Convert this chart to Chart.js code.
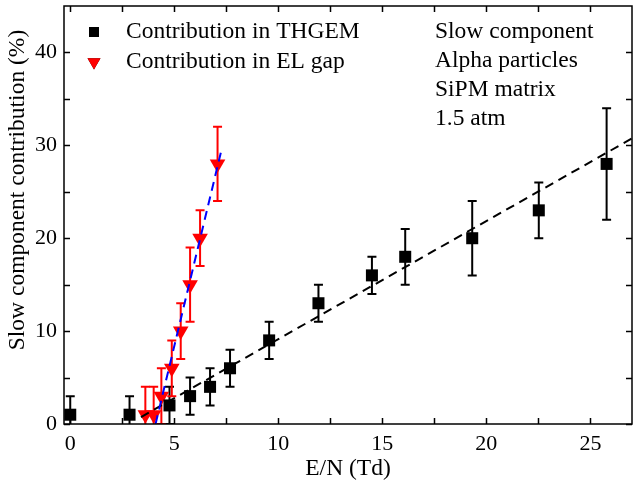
<!DOCTYPE html>
<html>
<head>
<meta charset="utf-8">
<script src="https://cdn.jsdelivr.net/npm/chart.js@4.4.0/dist/chart.umd.min.js"></script>
<style>
  html, body { margin: 0; padding: 0; background: #fff; }
  #wrap { width: 633px; height: 485px; }
</style>
</head>
<body>
<div id="wrap"><canvas id="chart"></canvas></div>
<script>
// Contribution in THGEM (black squares)
const thgemX = [0, 2.85, 4.77, 5.76, 6.72, 7.68, 9.56, 11.93, 14.5, 16.1, 19.32, 22.52, 25.78];
const thgemY = [1, 1, 2, 3, 4, 6, 9, 13, 16, 18, 20, 23, 28];
const thgemErr = [2, 2, 2, 2, 2, 2, 2, 2, 2, 3, 4, 3, 6];

// Contribution in EL gap (red triangles)
const elX = [3.61, 4.01, 4.38, 4.88, 5.31, 5.76, 6.24, 7.08];
const elY = [1, 1, 3, 6, 10, 15, 20, 28];
const elErr = [3, 3, 3, 3, 3, 4, 3, 4];

// linear fits (end points)
const thgemFitX = [3.4, 27];
const thgemFitY = [0.75, 30.75];
const elFitX = [4.1, 7.3];
const elFitY = [0, 29.8];

const xTicks = [0, 2.5, 5, 7.5, 10, 12.5, 15, 17.5, 20, 22.5, 25];
const xLabels = ['0', '', '5', '', '10', '', '15', '', '20', '', '25'];
const yTicks = [0, 5, 10, 15, 20, 25, 30, 35, 40];
const yLabels = ['0', '', '10', '', '20', '', '30', '', '40'];

const legendLabels = ['Contribution in THGEM', 'Contribution in EL gap'];
const noteLines = ['Slow component', 'Alpha particles', 'SiPM matrix', '1.5 atm'];
const xTitle = 'E/N (Td)';
const yTitle = 'Slow component contribution (%)';

const FONT = "'Liberation Serif', 'Times New Roman', serif";

const pts = (xs, ys) => xs.map((v, i) => ({ x: v, y: ys[i] }));

// error bars, drawn under the markers
const errorBars = {
    id: 'errorBars',
    beforeDatasetsDraw(chart) {
        const { ctx, chartArea: a, scales: { x, y } } = chart;
        ctx.save();
        ctx.beginPath();
        ctx.rect(a.left, a.top, a.right - a.left, a.bottom - a.top);
        ctx.clip();
        chart.data.datasets.forEach(ds => {
            if (!ds.errors) return;
            ctx.strokeStyle = ds.backgroundColor;
            ctx.lineWidth = 2;
            ds.data.forEach((p, i) => {
                const px = x.getPixelForValue(p.x);
                const top = y.getPixelForValue(p.y + ds.errors[i]);
                const bot = y.getPixelForValue(p.y - ds.errors[i]);
                ctx.beginPath();
                ctx.moveTo(px, top); ctx.lineTo(px, bot);
                ctx.moveTo(px - 4.5, top); ctx.lineTo(px + 4.5, top);
                ctx.moveTo(px - 4.5, bot); ctx.lineTo(px + 4.5, bot);
                ctx.stroke();
            });
        });
        ctx.restore();
    }
};

// frame with inward ticks on all sides, legend, notes, y title
const decorations = {
    id: 'decorations',
    afterDraw(chart) {
        const { ctx, chartArea: a, scales: { x, y } } = chart;
        ctx.save();
        ctx.strokeStyle = '#000';
        ctx.lineWidth = 1.5;
        ctx.strokeRect(a.left, a.top, a.right - a.left, a.bottom - a.top);
        ctx.beginPath();
        xTicks.forEach(v => {
            const px = Math.round(x.getPixelForValue(v)) + 0.5;
            ctx.moveTo(px, a.bottom); ctx.lineTo(px, a.bottom - 6);
            ctx.moveTo(px, a.top); ctx.lineTo(px, a.top + 6);
        });
        yTicks.forEach(v => {
            const py = Math.round(y.getPixelForValue(v)) + 0.5;
            ctx.moveTo(a.left, py); ctx.lineTo(a.left + 6, py);
            ctx.moveTo(a.right, py); ctx.lineTo(a.right - 6, py);
        });
        ctx.stroke();

        // legend
        ctx.font = '23.5px ' + FONT;
        ctx.fillStyle = '#000';
        ctx.textBaseline = 'middle';
        ctx.textAlign = 'left';
        const series = [chart.data.datasets[2], chart.data.datasets[3]];
        series.forEach((ds, i) => {
            const ly = 32 + i * 30;
            Chart.helpers.drawPoint(ctx, {
                pointStyle: ds.pointStyle,
                radius: ds.pointStyle === 'rect' ? 7 : 7.5,
                rotation: ds.rotation || 0,
                borderWidth: 0
            }, 94, ly);
            ctx.fillStyle = ds.backgroundColor;
            ctx.fill();
            ctx.fillStyle = '#000';
            ctx.fillText(legendLabels[i], 126, ly);
        });

        // notes
        noteLines.forEach((t, i) => ctx.fillText(t, 435, 32 + i * 29));

        // y title
        ctx.translate(18, 190);
        ctx.rotate(-Math.PI / 2);
        ctx.textAlign = 'center';
        ctx.fillText(yTitle, 0, 0);
        ctx.restore();
    }
};

const lineDs = (xs, ys, color) => ({
    type: 'line',
    data: pts(xs, ys),
    borderColor: color,
    borderWidth: 2,
    borderDash: [9, 6],
    pointRadius: 0,
    fill: false,
    showLine: true
});

new Chart(document.getElementById('chart'), {
    type: 'scatter',
    data: {
        datasets: [
            lineDs(elFitX, elFitY, '#0000ff'),
            lineDs(thgemFitX, thgemFitY, '#000000'),
            {
                label: legendLabels[0],
                data: pts(thgemX, thgemY),
                errors: thgemErr,
                pointStyle: 'rect',
                pointRadius: 8.5,
                backgroundColor: '#000000',
                borderWidth: 0
            },
            {
                label: legendLabels[1],
                data: pts(elX, elY),
                errors: elErr,
                pointStyle: 'triangle',
                rotation: 180,
                pointRotation: 180,
                pointRadius: 9,
                backgroundColor: '#ff0000',
                borderWidth: 0
            }
        ]
    },
    options: {
        responsive: true,
        maintainAspectRatio: false,
        animation: false,
        layout: { autoPadding: false, padding: { left: 0, top: 6, right: 1, bottom: 0 } },
        plugins: {
            legend: { display: false },
            tooltip: { enabled: false }
        },
        scales: {
            x: {
                type: 'linear',
                min: -0.3,
                max: 27,
                grid: { display: false, drawTicks: false },
                border: { display: false },
                afterBuildTicks: s => { s.ticks = xTicks.map(v => ({ value: v })); },
                afterFit: s => { s.height = 61; s.paddingLeft = 0; s.paddingRight = 0; },
                ticks: {
                    color: '#000',
                    font: { family: FONT, size: 22 },
                    padding: 7,
                    maxRotation: 0,
                    autoSkip: false,
                    callback: (v, i) => xLabels[i]
                },
                title: {
                    display: true,
                    text: xTitle,
                    color: '#000',
                    font: { family: FONT, size: 23.5 },
                    padding: { top: 0, bottom: 2 }
                }
            },
            y: {
                type: 'linear',
                min: 0,
                max: 45,
                grid: { display: false, drawTicks: false },
                border: { display: false },
                afterBuildTicks: s => { s.ticks = yTicks.map(v => ({ value: v })); },
                afterFit: s => { s.width = 64; s.paddingTop = 0; s.paddingBottom = 0; },
                ticks: {
                    color: '#000',
                    font: { family: FONT, size: 22 },
                    padding: 7,
                    autoSkip: false,
                    callback: (v, i) => yLabels[i]
                }
            }
        }
    },
    plugins: [errorBars, decorations]
});
</script>
</body>
</html>
